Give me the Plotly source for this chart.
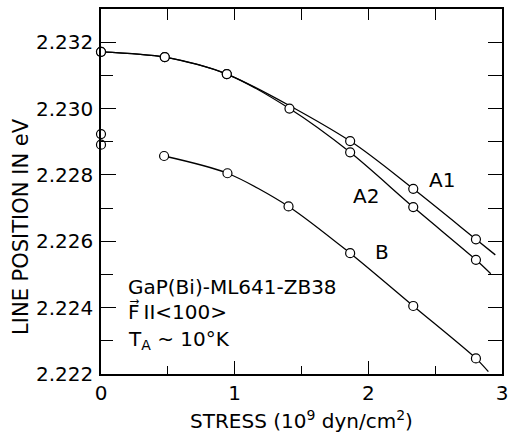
import plotly.graph_objects as go

# ---- data ----
a1_x = [0.0, 0.477, 0.941, 1.864, 2.336, 2.805]
a1_y = [2.23171, 2.23155, 2.23104, 2.22902, 2.22758, 2.22606]
a1_end_x = [2.95]
a1_end_y = [2.22559]

a2_x = [0.0, 0.477, 0.941, 1.41, 1.864, 2.336, 2.805]
a2_y = [2.23171, 2.23155, 2.23104, 2.2300, 2.22868, 2.22703, 2.22544]
a2_end_x = [2.916]
a2_end_y = [2.22502]

b_x = [0.472, 0.946, 1.403, 1.864, 2.336, 2.805]
b_y = [2.22857, 2.22805, 2.22705, 2.22564, 2.22405, 2.22247]
b_end_x = [2.898]
b_end_y = [2.22207]

zero_x = [0.0, 0.0]
zero_y = [2.22923, 2.22891]

x_ticks = [0, 1, 2, 3]
x_tick_labels = ["0", "1", "2", "3"]
y_ticks = [2.222, 2.224, 2.226, 2.228, 2.230, 2.232]
y_tick_labels = ["2.222", "2.224", "2.226", "2.228", "2.230", "2.232"]

XR = [0, 3]
YR = [2.222, 2.233]
FONT = "DejaVu Sans"

fig = go.Figure()

line_style = dict(color="black", width=1.3, shape="spline", smoothing=0.8)
for xs, ys, ex, ey in [(a1_x, a1_y, a1_end_x, a1_end_y),
                       (a2_x, a2_y, a2_end_x, a2_end_y),
                       (b_x, b_y, b_end_x, b_end_y)]:
    fig.add_trace(go.Scatter(x=xs + ex, y=ys + ey, mode="lines",
                             line=line_style, hoverinfo="skip",
                             showlegend=False, cliponaxis=False))

marker_style = dict(symbol="circle", size=9, color="white",
                    line=dict(color="black", width=1.2))
for xs, ys in [(a1_x, a1_y), (a2_x, a2_y), (b_x, b_y), (zero_x, zero_y)]:
    fig.add_trace(go.Scatter(x=xs, y=ys, mode="markers", marker=marker_style,
                             showlegend=False, cliponaxis=False))

# dummy trace for top / right tick axes
fig.add_trace(go.Scatter(x=[None], y=[None], xaxis="x2", yaxis="y2",
                         showlegend=False))

axis_font = dict(family=FONT, size=20, color="black")

fig.update_layout(
    width=514, height=436,
    margin=dict(l=101, r=6, t=9, b=62),
    paper_bgcolor="white", plot_bgcolor="white",
    font=dict(family=FONT, color="black"),
    xaxis=dict(range=XR, tickvals=x_ticks, ticktext=x_tick_labels,
               ticks="inside", ticklen=13, tickwidth=1.3, tickcolor="black",
               minor=dict(dtick=0.5, ticks="inside", ticklen=8,
                          tickwidth=1.3, tickcolor="black"),
               showline=True, linecolor="black", linewidth=1.5,
               mirror=True, showgrid=False, zeroline=False,
               tickfont=axis_font),
    yaxis=dict(range=YR, tickvals=y_ticks, ticktext=y_tick_labels,
               ticks="inside", ticklen=15, tickwidth=1.3, tickcolor="black",
               minor=dict(dtick=0.001, tick0=2.222, ticks="inside", ticklen=12,
                          tickwidth=1.3, tickcolor="black"),
               showline=True, linecolor="black", linewidth=1.5,
               mirror=True, showgrid=False, zeroline=False,
               tickfont=axis_font, ticklabelstandoff=2),
    xaxis2=dict(range=XR, overlaying="x", side="top", dtick=0.5, tick0=0,
                ticks="inside", ticklen=11, tickwidth=1.3, tickcolor="black",
                showticklabels=False, showgrid=False, zeroline=False),
    yaxis2=dict(range=YR, overlaying="y", side="right", dtick=0.001,
                tick0=2.222, ticks="inside", ticklen=14, tickwidth=1.3,
                tickcolor="black", showticklabels=False, showgrid=False,
                zeroline=False),
)

txt = dict(family=FONT, size=20, color="black")
ann = [
    dict(x=2.553, y=2.22785, text="A1"),
    dict(x=1.985, y=2.22737, text="A2"),
    dict(x=2.103, y=2.22568, text="B"),
]
for a in ann:
    fig.add_annotation(xref="x", yref="y", showarrow=False, font=txt, **a)

block = [
    (2.22462, "GaP(Bi)-ML641-ZB38"),
    (2.22387, "F\u20d7\u2009II<100>"),
    (2.22303, "T<sub>A</sub> ~ 10°K"),
]
for y, t in block:
    fig.add_annotation(xref="x", yref="y", x=0.19, y=y, text=t,
                       xanchor="left", showarrow=False, font=txt)

# axis titles
fig.add_annotation(xref="paper", yref="paper", x=0.5, y=-0.125,
                   xanchor="center", yanchor="middle", showarrow=False,
                   text="STRESS (10<sup>9</sup> dyn/cm<sup>2</sup>)", font=txt)
fig.add_annotation(xref="paper", yref="paper", x=-0.2, y=0.405,
                   xanchor="center", yanchor="middle", showarrow=False,
                   textangle=-90, text="LINE POSITION IN eV",
                   font=dict(family=FONT, size=21, color="black"))

fig.write_html("out.html")
